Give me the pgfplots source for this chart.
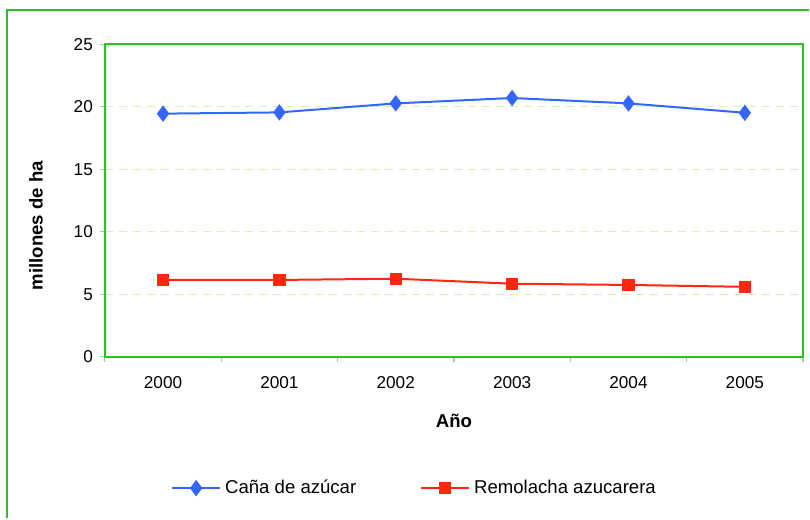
\documentclass[border=0pt]{standalone}
\usepackage{pgfplots}
\pgfplotsset{compat=1.18}
\usepackage{fontspec}
\setmainfont{Liberation Sans}
\definecolor{framec}{RGB}{40,195,30}
\definecolor{gridc}{RGB}{210,245,180}
\definecolor{tickc}{RGB}{170,200,160}
\definecolor{cana}{RGB}{51,102,255}
\definecolor{remo}{RGB}{255,40,15}
\begin{document}
\begin{tikzpicture}[x=1pt,y=1pt]
\path (0,0) rectangle (405,259.5);
\draw[framec,line width=1pt] (3.65,0) -- (3.65,254.5) -- (405,254.5);
\begin{axis}[
  at={(52.5pt,80.85pt)}, anchor=south west,
  scale only axis,
  width=349.5pt, height=156.5pt,
  xmin=-0.5, xmax=5.5,
  ymin=0, ymax=25,
  xtick={0,...,5},
  xticklabels={2000,2001,2002,2003,2004,2005},
  major x tick style={draw=none},
  minor xtick={-0.5,0.5,...,5.5},
  ytick={0,5,...,25},
  tick pos=left,
  tick align=outside,
  major tick length=2.5pt, minor tick length=2.5pt,
  every tick/.style={tickc, line width=0.6pt},
  ymajorgrids=true,
  grid style={gridc, dashed, line width=0.6pt, dash pattern=on 4pt off 3pt},
  axis line style={framec, line width=1pt},
  tick label style={font=\fontsize{8.6}{10}\selectfont},
  /pgf/number format/assume math mode=true,
  xticklabel style={yshift=-4pt},
  ylabel={\textbf{millones de ha}},
  xlabel={\textbf{Año}},
  label style={font=\fontsize{9.3}{11}\selectfont},
  ylabel style={at={(axis description cs:0,0.5)}, anchor=center, yshift=34.5pt, xshift=-12.6pt},
  xlabel style={at={(axis description cs:0.5,0)}, anchor=center, yshift=-31.85pt},
  legend columns=2,
  legend style={draw=none, fill=none, at={(0.445,-0.42)}, anchor=center,
    font=\fontsize{9.3}{11}\selectfont,
    /tikz/every even column/.append style={column sep=30pt}},
  legend image code/.code={\draw[mark repeat=2,mark phase=2] plot coordinates {(0pt,0pt) (12pt,0pt) (24pt,0pt)};},
]
\addplot[cana, line width=1pt, mark=diamond*, mark size=3.3pt, mark options={solid}]
  coordinates {(0,19.45) (1,19.55) (2,20.27) (3,20.7) (4,20.27) (5,19.52)};
\addlegendentry{Caña de azúcar}
\addplot[remo, line width=1pt, mark=square*, mark size=2.6pt, mark options={solid}]
  coordinates {(0,6.15) (1,6.15) (2,6.25) (3,5.85) (4,5.75) (5,5.6)};
\addlegendentry{Remolacha azucarera}
\end{axis}
\end{tikzpicture}
\end{document}
